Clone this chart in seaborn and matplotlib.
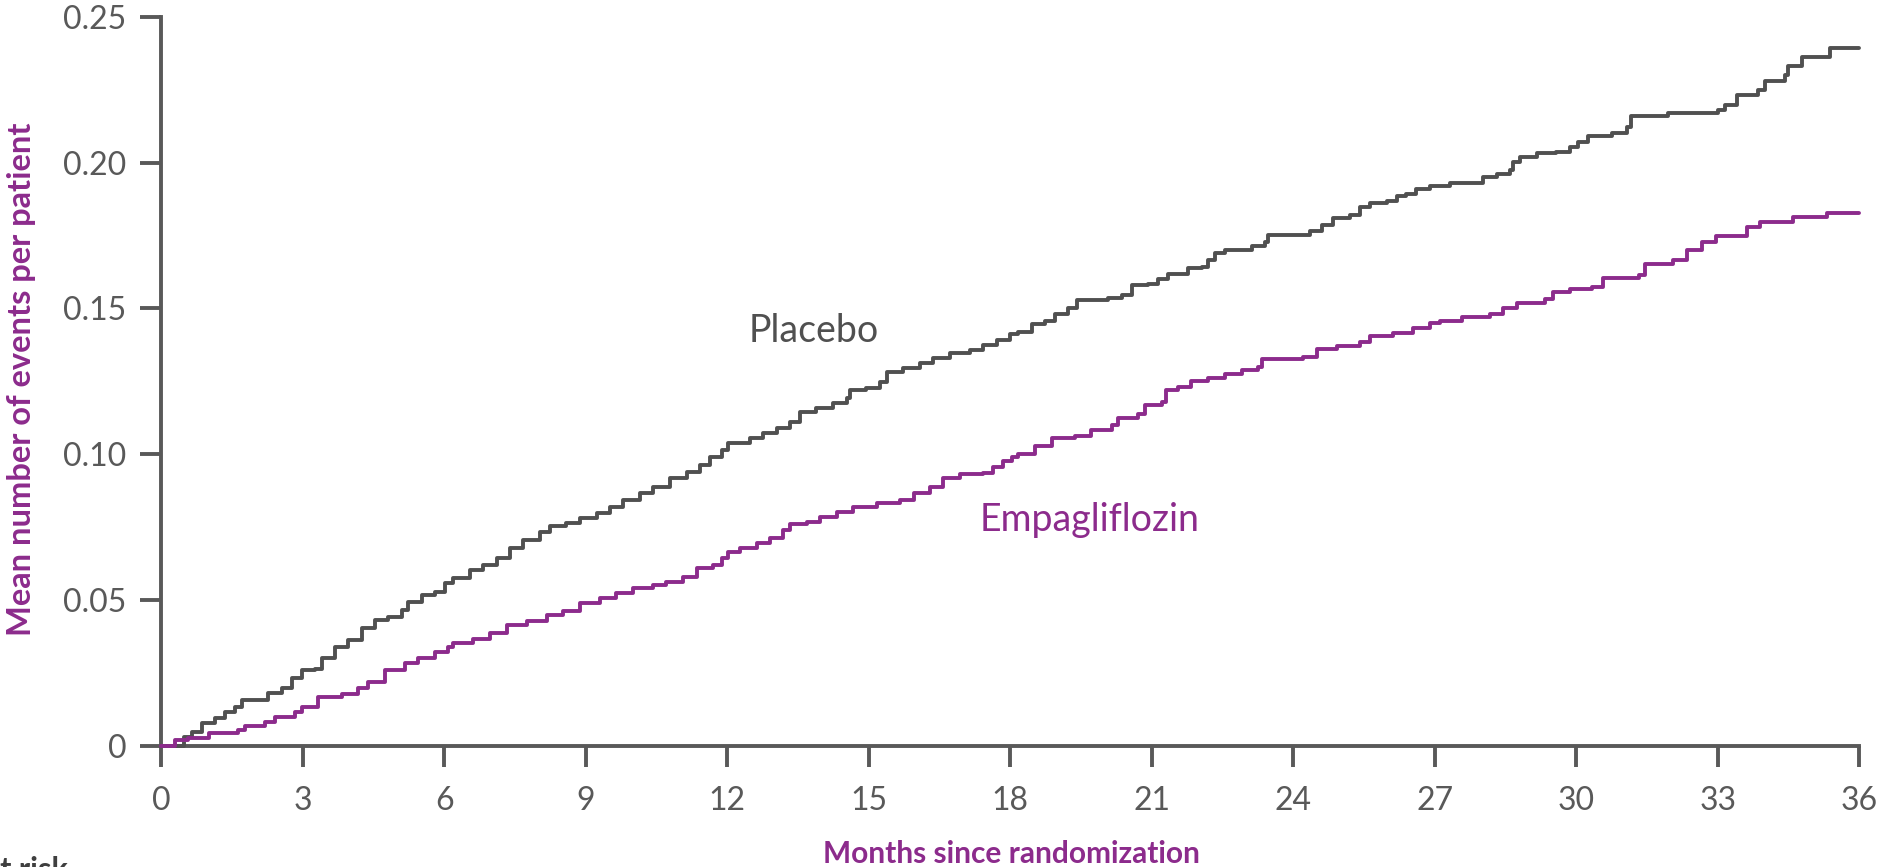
import numpy as np
import pandas as pd
import matplotlib
matplotlib.use("Agg")
import matplotlib.pyplot as plt
import seaborn as sns

# Cumulative mean number of events per patient (step curves)
placebo_months = [0.0, 0.47, 0.64, 0.86, 1.14, 1.35, 1.56, 1.70, 2.27, 2.55, 2.76, 2.98,
                  3.26, 3.40, 3.68, 3.96, 4.25, 4.53, 4.81, 5.10, 5.24, 5.52, 5.80, 6.01,
                  6.19, 6.54, 6.83, 7.11, 7.39, 7.67, 8.03, 8.24, 8.59, 8.87, 9.23, 9.51,
                  9.79, 10.15, 10.43, 10.78, 11.14, 11.42, 11.63, 11.88, 12.02, 12.48, 12.76,
                  13.05, 13.33, 13.54, 13.89, 14.25, 14.53, 14.60, 14.95, 15.24, 15.38, 15.73,
                  16.08, 16.37, 16.72, 17.14, 17.43, 17.71, 17.99, 18.17, 18.45, 18.73, 18.95,
                  19.23, 19.41, 20.08, 20.36, 20.57, 20.92, 21.14, 21.35, 21.77, 22.06, 22.20,
                  22.34, 22.55, 23.12, 23.40, 23.47, 24.35, 24.60, 24.85, 25.20, 25.41, 25.62,
                  25.98, 26.19, 26.40, 26.61, 26.90, 27.32, 28.03, 28.31, 28.59, 28.66, 28.80,
                  29.16, 29.58, 29.87, 30.04, 30.25, 30.75, 31.07, 31.17, 31.95, 33.01, 33.15,
                  33.40, 33.86, 34.00, 34.42, 34.49, 34.78, 35.38, 36.0]
placebo_events = [0.0, 0.0030, 0.0049, 0.0078, 0.0095, 0.0118, 0.0135, 0.0158, 0.0180, 0.0200,
                  0.0232, 0.0260, 0.0265, 0.0300, 0.0340, 0.0363, 0.0403, 0.0432, 0.0443, 0.0466,
                  0.0495, 0.0518, 0.0529, 0.0560, 0.0575, 0.0603, 0.0620, 0.0643, 0.0678, 0.0706,
                  0.0735, 0.0754, 0.0763, 0.0780, 0.0798, 0.0820, 0.0843, 0.0866, 0.0889, 0.0918,
                  0.0940, 0.0963, 0.0992, 0.1015, 0.1038, 0.1055, 0.1072, 0.1089, 0.1112, 0.1146,
                  0.1158, 0.1175, 0.1192, 0.1220, 0.1226, 0.1249, 0.1283, 0.1295, 0.1312, 0.1329,
                  0.1346, 0.1358, 0.1375, 0.1392, 0.1412, 0.1420, 0.1446, 0.1457, 0.1480, 0.1500,
                  0.1529, 0.1535, 0.1546, 0.1580, 0.1583, 0.1600, 0.1617, 0.1640, 0.1643, 0.1666,
                  0.1689, 0.1700, 0.1715, 0.1729, 0.1752, 0.1767, 0.1786, 0.1809, 0.1820, 0.1849,
                  0.1860, 0.1868, 0.1886, 0.1892, 0.1908, 0.1920, 0.1929, 0.1950, 0.1960, 0.1975,
                  0.2003, 0.2020, 0.2032, 0.2037, 0.2052, 0.2072, 0.2091, 0.2103, 0.2121, 0.2160,
                  0.2171, 0.2180, 0.2197, 0.2232, 0.2249, 0.2281, 0.2300, 0.2331, 0.2363, 0.2392,
                  0.2392]

empa_months = [0.0, 0.29, 0.57, 1.0, 1.63, 1.77, 2.20, 2.41, 2.83, 2.98, 3.33, 3.82, 4.18,
               4.39, 4.74, 5.17, 5.45, 5.80, 6.08, 6.19, 6.61, 6.97, 7.32, 7.75, 8.17, 8.52,
               8.87, 9.30, 9.65, 10.0, 10.43, 10.71, 11.07, 11.35, 11.70, 11.88, 12.02, 12.27,
               12.62, 12.90, 13.19, 13.33, 13.68, 13.96, 14.32, 14.67, 15.17, 15.66, 15.95,
               16.30, 16.58, 16.93, 17.43, 17.64, 17.85, 18.03, 18.17, 18.52, 18.88, 19.37,
               19.72, 20.15, 20.29, 20.71, 20.86, 21.21, 21.31, 21.56, 21.84, 22.20, 22.55,
               22.91, 23.26, 23.33, 24.21, 24.50, 24.92, 25.41, 25.62, 26.11, 26.54, 26.90,
               27.11, 27.57, 28.17, 28.45, 28.74, 29.34, 29.51, 29.87, 30.33, 30.57, 31.32,
               31.46, 32.06, 32.34, 32.66, 32.97, 33.61, 33.89, 34.60, 35.31, 36.0]
empa_events = [0.0, 0.0020, 0.0026, 0.0046, 0.0055, 0.0069, 0.0083, 0.0100, 0.0118, 0.0135,
               0.0169, 0.0178, 0.0198, 0.0220, 0.0260, 0.0284, 0.0300, 0.0323, 0.0340, 0.0352,
               0.0366, 0.0388, 0.0415, 0.0430, 0.0449, 0.0464, 0.0489, 0.0506, 0.0523, 0.0540,
               0.0552, 0.0563, 0.0580, 0.0609, 0.0620, 0.0643, 0.0666, 0.0678, 0.0697, 0.0712,
               0.0740, 0.0761, 0.0769, 0.0786, 0.0803, 0.0820, 0.0834, 0.0843, 0.0866, 0.0889,
               0.0918, 0.0932, 0.0937, 0.0958, 0.0978, 0.0992, 0.1000, 0.1030, 0.1055, 0.1064,
               0.1083, 0.1100, 0.1125, 0.1137, 0.1169, 0.1180, 0.1220, 0.1232, 0.1251, 0.1260,
               0.1274, 0.1289, 0.1300, 0.1327, 0.1332, 0.1360, 0.1371, 0.1386, 0.1406, 0.1417,
               0.1432, 0.1449, 0.1458, 0.1470, 0.1481, 0.1500, 0.1518, 0.1531, 0.1557, 0.1567,
               0.1572, 0.1603, 0.1615, 0.1652, 0.1666, 0.1700, 0.1729, 0.1748, 0.1780, 0.1797,
               0.1812, 0.1827, 0.1827]

x_ticks = list(range(0, 37, 3))
y_ticks = [0, 0.05, 0.10, 0.15, 0.20, 0.25]
y_tick_labels = ["0", "0.05", "0.10", "0.15", "0.20", "0.25"]

GREY = "#505050"
PURPLE = "#8C2B8C"
AXIS_GREY = "#595959"

df = pd.concat([
    pd.DataFrame({"month": placebo_months, "events": placebo_events, "arm": "Placebo"}),
    pd.DataFrame({"month": empa_months, "events": empa_events, "arm": "Empagliflozin"}),
], ignore_index=True)

sns.set_theme(style="ticks")
plt.rcParams["font.family"] = ["Lato", "DejaVu Sans"]

fig = plt.figure(figsize=(18.87, 8.67), dpi=100)
ax = fig.add_axes([0.0855, 0.1396, 0.8998, 0.841])

sns.lineplot(data=df, x="month", y="events", hue="arm",
             hue_order=["Placebo", "Empagliflozin"],
             palette={"Placebo": GREY, "Empagliflozin": PURPLE},
             estimator=None, drawstyle="steps-post", linewidth=2.8,
             legend=False, ax=ax)
for line in ax.get_lines():
    line.set_zorder(3)
    line.set_clip_on(False)

ax.set_xlim(0, 36)
ax.set_ylim(0, 0.25)
ax.set_xticks(x_ticks)
ax.set_xticklabels([str(t) for t in x_ticks])
ax.set_yticks(y_ticks)
ax.set_yticklabels(y_tick_labels)
sns.despine(ax=ax)
for side in ("left", "bottom"):
    ax.spines[side].set_linewidth(2.8)
    ax.spines[side].set_color(AXIS_GREY)
    ax.spines[side].set_capstyle("projecting")
ax.tick_params(axis="both", length=15, width=2.8, color=AXIS_GREY,
               labelcolor=AXIS_GREY, labelsize=23)
ax.tick_params(axis="x", pad=14)
ax.tick_params(axis="y", pad=10)

ax.set_xlabel("")
ax.set_ylabel("")
fig.text(1011 / 1887, 1 - 854 / 867, "Months since randomization",
         ha="center", va="center", color=PURPLE, fontsize=21.5, fontweight="bold")
fig.text(22 / 1887, 1 - 379 / 867, "Mean number of events per patient",
         ha="center", va="center", rotation=90, color=PURPLE,
         fontsize=23.5, fontweight="bold")
fig.text(68 / 1887, 1 - 856 / 867, "No. at risk", ha="right", va="top",
         color="#3F3F3F", fontsize=22, fontweight="bold")

ax.text(13.83, 0.1423, "Placebo", ha="center", va="center", color=GREY, fontsize=27)
ax.text(19.69, 0.0775, "Empagliflozin", ha="center", va="center", color=PURPLE, fontsize=27)

fig.savefig("out.png", dpi=100)
